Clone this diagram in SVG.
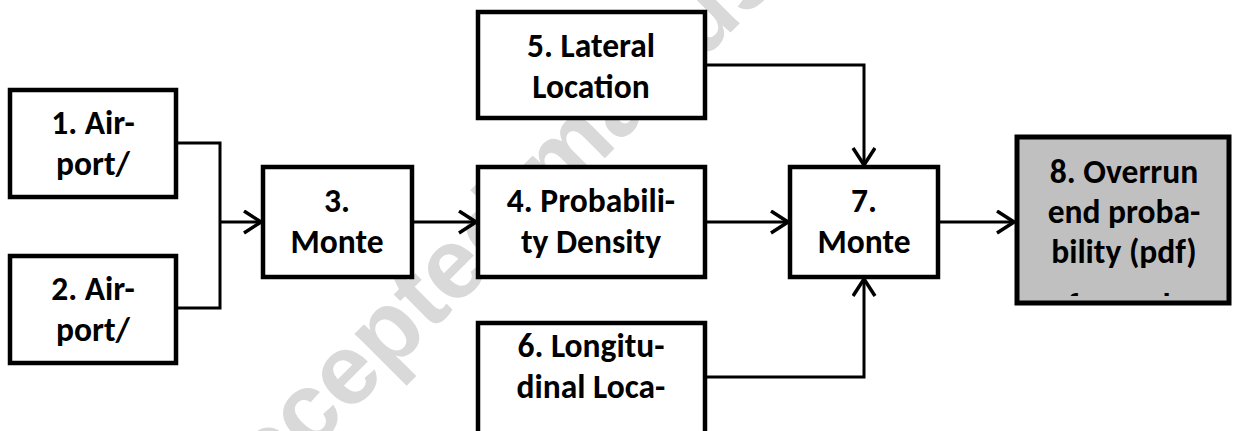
<svg xmlns="http://www.w3.org/2000/svg" width="1234" height="431" viewBox="0 0 1234 431">
  <style>
    .box { fill: #ffffff; stroke: #000000; stroke-width: 4.5; }
    .out { fill: #c0c0c0; stroke: #000000; stroke-width: 5; }
    .lbl { font-family: Calibri, Carlito, Lato, "Liberation Sans", sans-serif; font-weight: 700; font-size: 33.5px; fill: #000000; text-anchor: middle; }
    .conn { fill: none; stroke: #000000; stroke-width: 3; }
    .wm { font-family: "Liberation Sans", Arial, sans-serif; font-weight: 700; font-size: 100px; fill: #d9d9d9; }
  </style>
  <defs>
    <marker id="arr" markerUnits="userSpaceOnUse" markerWidth="22" markerHeight="26" refX="19" refY="12" orient="auto">
      <path d="M2,1 L19,12 L2,23" fill="none" stroke="#000000" stroke-width="3.5"/>
    </marker>
    <clipPath id="clip8">
      <rect x="1020" y="140" width="206" height="156"/>
    </clipPath>
  </defs>

  <text class="wm" transform="translate(218,545) rotate(-45)">Accepted manuscript</text>

  <g id="connectors">
    <polyline class="conn" points="178,143 220,143 220,308 178,308"/>
    <line class="conn" x1="220" y1="222" x2="261" y2="222" marker-end="url(#arr)"/>
    <line class="conn" x1="414" y1="222" x2="476" y2="222" marker-end="url(#arr)"/>
    <line class="conn" x1="707" y1="222" x2="788" y2="222" marker-end="url(#arr)"/>
    <polyline class="conn" points="707,65 864,65 864,165" marker-end="url(#arr)"/>
    <polyline class="conn" points="707,377 864,377 864,279" marker-end="url(#arr)"/>
    <line class="conn" x1="940" y1="222" x2="1014" y2="222" marker-end="url(#arr)"/>
  </g>

  <g id="node1">
    <rect class="box" x="10" y="90" width="166" height="107"/>
    <text class="lbl" x="93" y="134">1. Air-</text>
    <text class="lbl" x="93" y="175">port/</text>
  </g>
  <g id="node2">
    <rect class="box" x="10" y="256" width="166" height="107"/>
    <text class="lbl" x="93" y="300">2. Air-</text>
    <text class="lbl" x="93" y="341">port/</text>
  </g>
  <g id="node3">
    <rect class="box" x="263" y="167" width="149" height="110"/>
    <text class="lbl" x="337" y="212">3.</text>
    <text class="lbl" x="337" y="253">Monte</text>
  </g>
  <g id="node4">
    <rect class="box" x="478" y="167" width="227" height="110"/>
    <text class="lbl" x="591" y="212">4. Probabili-</text>
    <text class="lbl" x="591" y="253">ty Density</text>
  </g>
  <g id="node5">
    <rect class="box" x="478" y="12" width="227" height="106"/>
    <text class="lbl" x="591" y="57">5. Lateral</text>
    <text class="lbl" x="591" y="98">Location</text>
  </g>
  <g id="node6">
    <rect class="box" x="478" y="323" width="227" height="115"/>
    <text class="lbl" x="591" y="357">6. Longitu-</text>
    <text class="lbl" x="591" y="398">dinal Loca-</text>
  </g>
  <g id="node7">
    <rect class="box" x="790" y="167" width="148" height="110"/>
    <text class="lbl" x="864" y="212">7.</text>
    <text class="lbl" x="864" y="253">Monte</text>
  </g>
  <g id="node8">
    <rect class="out" x="1017" y="137" width="212" height="166"/>
    <g clip-path="url(#clip8)">
      <text class="lbl" x="1124" y="183">8. Overrun</text>
      <text class="lbl" x="1124" y="223">end proba-</text>
      <text class="lbl" x="1124" y="263">bility (pdf)</text>
      <text class="lbl" x="1124" y="317">for each</text>
    </g>
  </g>
</svg>
